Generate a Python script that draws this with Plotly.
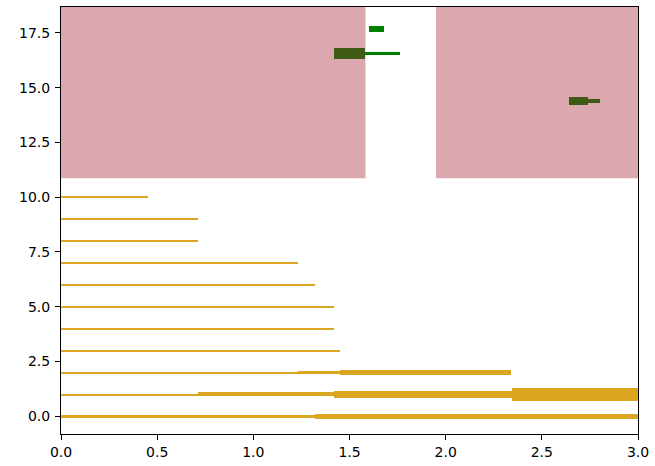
import plotly.graph_objects as go

# Gold segments: row, start, end, thickness (data units)
gold_rows   = [10, 9, 8, 7, 6, 5, 4, 3, 2, 2, 2, 1, 1, 1, 1, 0, 0, 0]
gold_starts = [0, 0, 0, 0, 0, 0, 0, 0, 0, 1.23, 1.45, 0, 0.71, 1.42, 2.345, 0, 0.45, 1.32]
gold_ends   = [0.45, 0.71, 0.71, 1.23, 1.32, 1.42, 1.42, 1.45, 1.23, 1.45, 2.34, 0.71, 1.42, 2.345, 3.1, 0.45, 1.32, 3.1]
gold_thick  = [0.07, 0.07, 0.07, 0.07, 0.07, 0.07, 0.07, 0.07, 0.07, 0.14, 0.24, 0.07, 0.18, 0.32, 0.59, 0.07, 0.12, 0.23]

# Green segments: center y, start, end, thickness (data units)
green_y      = [17.68, 16.56, 16.56, 14.38, 14.38]
green_starts = [1.60, 1.42, 1.58, 2.64, 2.74]
green_ends   = [1.68, 1.58, 1.76, 2.74, 2.80]
green_thick  = [0.28, 0.48, 0.14, 0.37, 0.2]

# Shaded spans (x ranges) over the upper y band
span_x0 = [0.0, 1.95]
span_x1 = [1.583, 3.0]
span_y0 = 10.86
span_y1 = 19.0

X_RANGE = [0, 3]
Y_RANGE = [-0.81, 18.68]
x_ticks = [0, 0.5, 1.0, 1.5, 2.0, 2.5, 3.0]
y_ticks = [0, 2.5, 5.0, 7.5, 10.0, 12.5, 15.0, 17.5]

fig = go.Figure()
fig.add_trace(go.Bar(
    orientation="h",
    y=gold_rows,
    base=gold_starts,
    x=[e - s for s, e in zip(gold_starts, gold_ends)],
    width=gold_thick,
    marker=dict(color="#DAA520", line=dict(width=0)),
    showlegend=False,
))
fig.add_trace(go.Bar(
    orientation="h",
    y=green_y,
    base=green_starts,
    x=[e - s for s, e in zip(green_starts, green_ends)],
    width=green_thick,
    marker=dict(color="#008000", line=dict(width=0)),
    showlegend=False,
))

for a, b in zip(span_x0, span_x1):
    fig.add_shape(type="rect", xref="x", yref="y", x0=a, x1=b, y0=span_y0, y1=span_y1,
                  fillcolor="rgba(162,31,52,0.39)", line=dict(width=0), layer="above")

axis_common = dict(
    showgrid=False, zeroline=False, showline=True, linecolor="black", linewidth=1,
    mirror=True, ticks="outside", ticklen=5, tickcolor="black", tickwidth=1,
    tickfont=dict(family="DejaVu Sans", size=14, color="black"),
    tickformat=".1f",
)
fig.update_xaxes(range=X_RANGE, tickvals=x_ticks, **axis_common)
fig.update_yaxes(range=Y_RANGE, tickvals=y_ticks, ticklabelstandoff=2, **axis_common)

fig.update_layout(
    width=655, height=466,
    margin=dict(l=61, r=14, t=6, b=29),
    barmode="overlay",
    bargap=0,
    plot_bgcolor="white",
    paper_bgcolor="white",
)

fig.write_html("out.html")
